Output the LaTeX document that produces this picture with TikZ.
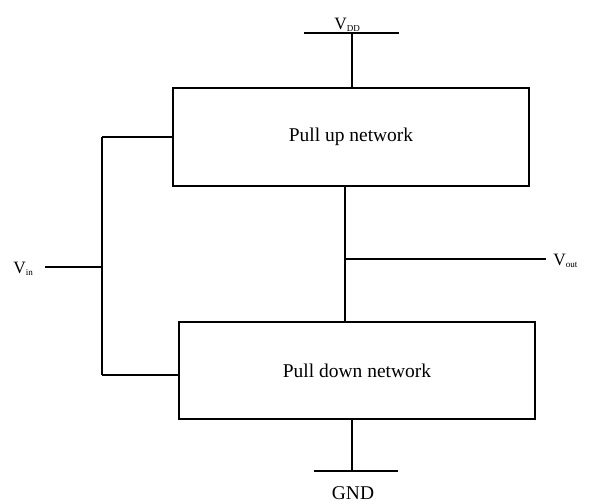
\documentclass[tikz,border=0pt]{standalone}
\usepackage{fontspec}
\setmainfont{Liberation Serif}
\begin{document}
\begin{tikzpicture}[x=0.75pt,y=-0.75pt,
  wire/.style={line width=1.5pt},
  netbox/.style={draw,line width=1.5pt,minimum width=267pt,inner sep=0pt,
    font=\fontsize{14.6}{17}\selectfont},
  sig/.style={inner sep=0pt,font=\fontsize{13}{15}\selectfont}]
\useasboundingbox (0,0) rectangle (590,504);

% the two networks
\node[netbox,minimum height=73.5pt] (up) at (351,137) {Pull up network};
\node[netbox,minimum height=72.75pt] (down) at (357,370.5) {Pull down network};

% supply rail
\coordinate (vddL) at (304,33);
\coordinate (vddR) at (399,33);
\coordinate (vdd) at (352,33);
\draw[wire] (vddL) -- (vddR);
\draw[wire] (vdd) -- (vdd |- up.north);
\node[sig,anchor=base west] (vddlab) at (334,29) {V\raisebox{-0.3ex}{\fontsize{6.8}{8}\selectfont DD}};

% ground rail
\coordinate (gndL) at (314,471);
\coordinate (gndR) at (398,471);
\coordinate (gnd) at (352,471);
\draw[wire] (gnd |- down.south) -- (gnd);
\draw[wire] (gndL) -- (gndR);
\node[inner sep=0pt,anchor=base,font=\fontsize{14.6}{17}\selectfont] (gndlab) at (353,499) {GND};

% output node
\coordinate (otap) at (345,259);
\coordinate (oend) at (546,259);
\draw[wire] (otap |- up.south) -- (otap |- down.north);
\draw[wire] (otap) -- (oend);
\node[sig,anchor=base west] (voutlab) at (553,265) {V\raisebox{-0.3ex}{\fontsize{6.8}{8}\selectfont out}};

% input node
\coordinate (vin) at (45,267);
\coordinate (itap) at (102,267);
\coordinate (itop) at (102,137);
\coordinate (ibot) at (102,375);
\draw[wire] (vin) -- (itap);
\draw[wire] (itop) -- (ibot);
\draw[wire] (itop) -- (itop -| up.west);
\draw[wire] (ibot) -- (ibot -| down.west);
\node[sig,anchor=base west] (vinlab) at (13,273) {V\raisebox{-0.3ex}{\fontsize{6.8}{8}\selectfont in}};
\end{tikzpicture}
\end{document}
